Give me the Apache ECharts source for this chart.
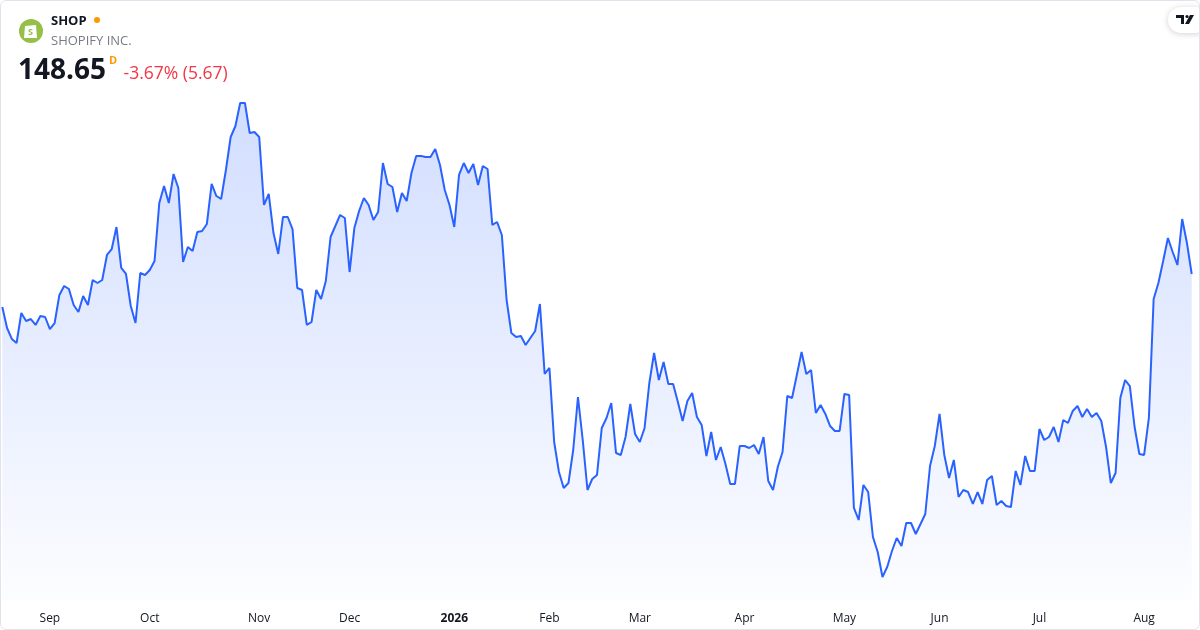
<!DOCTYPE html>
<html>
<head>
<meta charset="utf-8">
<script src="https://cdn.jsdelivr.net/npm/echarts@6/dist/echarts.min.js"></script>
<style>
  html, body { margin: 0; padding: 0; background: #fff; }
  #chart { position: absolute; left: 0; top: 0; width: 1200px; height: 630px; }
  #frame { position: absolute; left: 0; top: 0; width: 1200px; height: 630px; box-sizing: border-box;
           border: 1px solid #e0e3eb; border-radius: 6px; pointer-events: none; }
</style>
</head>
<body>
<div id="chart"></div>
<div id="frame"></div>
<script>
// ---- Data ----
const ticker = "SHOP";
const companyName = "SHOPIFY INC.";
const lastPrice = "148.65";
const changeText = "-3.67% (5.67)";
const firstDay = "2025-08-18";
const marketHolidays = ["2025-09-01","2025-11-27","2025-12-25","2026-01-01","2026-01-19",
  "2026-02-16","2026-04-03","2026-05-25","2026-06-19","2026-07-03"];
const monthNames = ["Jan","Feb","Mar","Apr","May","Jun","Jul","Aug","Sep","Oct","Nov","Dec"];

// Daily closes, Aug 2025 -> Aug 2026
const closes = [
  142.61,138.77,136.76,136.02,141.51,140.05,140.41,139.32,140.96,140.78,
  138.58,139.68,144.81,146.45,145.90,142.98,141.69,144.62,142.98,147.55,
  147.00,147.55,152.13,153.22,157.25,149.75,148.65,142.79,139.68,148.83,
  148.47,149.38,151.03,161.64,164.75,161.64,166.95,164.39,150.84,153.59,
  152.86,156.33,156.52,157.80,165.12,162.92,162.37,167.68,173.72,175.73,
  179.94,179.94,174.45,174.63,173.72,161.28,163.29,156.15,152.31,159.08,
  159.08,156.88,146.09,145.72,139.32,139.86,145.72,144.07,147.37,155.42,
  157.43,159.45,158.90,149.01,157.07,160.18,162.56,161.28,158.53,159.99,
  168.96,165.12,164.57,159.99,163.47,162.01,167.13,170.24,170.24,170.06,
  170.06,171.52,168.60,164.02,161.28,157.25,166.77,168.96,167.13,168.78,
  164.94,168.41,167.86,157.62,158.16,155.79,143.89,137.85,137.12,137.30,
  135.66,136.94,138.22,143.16,130.35,131.45,117.90,112.41,109.49,110.40,
  116.44,126.14,118.27,109.12,111.13,111.87,120.47,122.30,125.04,115.89,
  115.53,118.82,124.86,119.37,117.90,120.47,128.70,134.19,129.25,132.54,
  128.52,128.52,125.22,121.75,125.41,126.87,122.48,121.02,115.34,119.73,
  114.61,116.99,113.88,110.22,110.22,117.17,117.17,116.81,117.36,115.71,
  118.82,110.77,109.12,113.33,116.07,126.32,125.96,130.17,134.37,130.35,
  131.08,123.21,124.68,123.03,120.83,119.92,119.92,126.69,126.51,105.83,
  103.63,110.04,108.75,100.52,97.77,93.20,95.03,97.96,100.34,98.87,
  103.08,103.08,101.07,102.90,104.73,113.51,117.17,123.03,115.53,111.32,
  114.61,107.84,109.12,108.75,106.56,108.75,106.56,110.95,111.68,106.38,
  107.11,106.19,106.01,112.60,110.04,115.34,112.60,112.60,120.28,118.27,
  118.82,120.65,117.90,121.93,121.38,123.58,124.49,122.48,123.94,122.48,
  123.21,121.75,116.99,110.40,112.23,125.96,129.25,128.15,120.65,115.71,
  115.53,122.30,144.07,147.00,151.03,155.24,152.67,150.29,158.71,154.32,
  148.65
];

// trading-day categories
function pad(n){ return n < 10 ? "0" + n : "" + n; }
const dates = [];
{
  const d = new Date(firstDay + "T12:00:00Z");
  while (dates.length < closes.length) {
    const wd = d.getUTCDay();
    const s = d.getUTCFullYear() + "-" + pad(d.getUTCMonth() + 1) + "-" + pad(d.getUTCDate());
    if (wd !== 0 && wd !== 6 && marketHolidays.indexOf(s) < 0) dates.push(s);
    d.setUTCDate(d.getUTCDate() + 1);
  }
}
function isMonthStart(i) {
  return i > 0 && dates[i].slice(0, 7) !== dates[i - 1].slice(0, 7);
}

const FONT = '"Open Sans", Roboto, sans-serif';
const chart = echarts.init(document.getElementById('chart'), null, { renderer: 'canvas' });

chart.setOption({
  animation: false,
  backgroundColor: '#ffffff',
  grid: { left: 2.3, right: 8.3, top: 90, bottom: 30, containLabel: false },
  xAxis: {
    type: 'category',
    data: dates,
    boundaryGap: false,
    axisLine: { show: false },
    axisTick: { show: false },
    splitLine: { show: false },
    axisLabel: {
      interval: function (i) { return isMonthStart(i); },
      margin: 13,
      fontFamily: FONT,
      fontSize: 12,
      color: '#131722',
      formatter: function (v) {
        const m = parseInt(v.slice(5, 7), 10) - 1;
        if (m === 0) return '{y|' + v.slice(0, 4) + '}';
        return monthNames[m];
      },
      rich: { y: { fontWeight: 'bold', fontFamily: FONT, fontSize: 12, color: '#131722' } }
    }
  },
  yAxis: {
    type: 'value',
    min: 88.99,
    max: 182.32,
    show: false,
    splitLine: { show: false }
  },
  series: [{
    type: 'line',
    data: closes,
    showSymbol: false,
    smooth: false,
    lineStyle: { color: '#2962FF', width: 2 },
    areaStyle: {
      origin: 'start',
      color: new echarts.graphic.LinearGradient(0, 0, 0, 1, [
        { offset: 0, color: 'rgba(41,98,255,0.30)' },
        { offset: 1, color: 'rgba(41,98,255,0.02)' }
      ])
    }
  }],
  graphic: [
    // Shopify logo
    { type: 'circle', shape: { cx: 31, cy: 31, r: 12 }, style: { fill: '#95BF47' } },
    { type: 'polygon', shape: { points: [[25,26],[36,25],[37,38],[24,38]] }, style: { fill: '#ffffff' } },
    { type: 'text', style: { x: 30.5, y: 32, text: 'S', fill: '#95BF47', font: 'bold 9px ' + FONT,
      align: 'center', verticalAlign: 'middle' } },
    // header texts
    { type: 'text', style: { x: 51, y: 21, text: ticker, fill: '#131722', font: 'bold 13px ' + FONT,
      verticalAlign: 'middle' } },
    { type: 'circle', shape: { cx: 97, cy: 20, r: 3 }, style: { fill: '#FF9800' } },
    { type: 'text', style: { x: 51, y: 41, text: companyName, fill: '#787B86', font: '13px ' + FONT,
      verticalAlign: 'middle' } },
    { type: 'text', style: { x: 18, y: 71, text: lastPrice, fill: '#131722', font: 'bold 28px ' + FONT,
      verticalAlign: 'middle' } },
    { type: 'text', style: { x: 109, y: 61, text: 'D', fill: '#FF9800', font: 'bold 11px ' + FONT,
      verticalAlign: 'middle' } },
    { type: 'text', style: { x: 123.5, y: 74, text: changeText, fill: '#F23645', font: '17.5px ' + FONT,
      verticalAlign: 'middle' } },
    // TradingView badge
    { type: 'rect', shape: { x: 1168, y: 7, width: 40, height: 26, r: 13 },
      style: { fill: '#ffffff', shadowBlur: 6, shadowColor: 'rgba(0,0,0,0.18)', shadowOffsetY: 1 } },
    { type: 'polygon', shape: { points: [[1176,15],[1184,15],[1184,24],[1181,24],[1181,18],[1176,18]] },
      style: { fill: '#131722' } },
    { type: 'circle', shape: { cx: 1187, cy: 16.5, r: 1.6 }, style: { fill: '#131722' } },
    { type: 'polygon', shape: { points: [[1190,15],[1194,15],[1189,24],[1185,24]] },
      style: { fill: '#131722' } }
  ]
});
</script>
</body>
</html>
